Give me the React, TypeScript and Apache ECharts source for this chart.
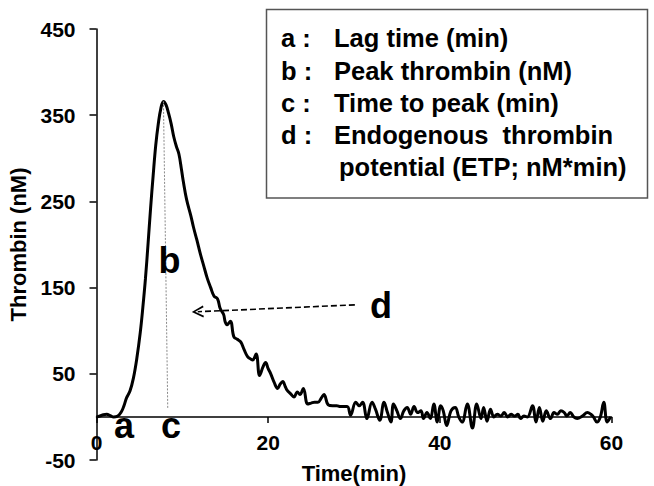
import React, { useEffect, useRef } from "react";
import * as echarts from "echarts";

// Time (min)
const times = [
  0, 0.4, 0.8, 1.2, 1.6, 2.0, 2.4, 2.9, 3.2, 3.5, 3.9, 4.3, 4.7, 5.1, 5.4, 5.7, 6.0, 6.3, 6.6, 6.9,
  7.2, 7.5, 7.8, 8.1, 8.4, 8.7, 9.0, 9.3, 9.6, 9.9, 10.1, 10.5, 11.0, 11.3, 11.7, 12.1, 12.5, 12.9, 13.3, 13.7,
  14.1, 14.4, 14.8, 15.0, 15.2, 15.6, 16.0, 16.4, 16.8, 17.2, 17.6, 18.0, 18.2, 18.6, 19.0, 19.4, 19.7, 20.0, 20.3, 20.7,
  21.1, 21.4, 21.7, 22.0, 22.2, 22.6, 23.0, 23.4, 23.7, 24.1, 24.6, 25.0, 25.4, 25.8, 26.2, 26.5, 27.0, 27.5, 28.0, 28.4,
  29.2, 29.6, 30.2, 30.6, 31.0, 31.5, 32.1, 32.5, 33.0, 33.5, 33.9, 34.3, 34.6, 35.0, 35.4, 35.8, 36.2, 36.6, 37.0, 37.4,
  37.8, 38.1, 38.5, 38.9, 39.3, 39.7, 40.1, 40.4, 40.8, 41.3, 41.8, 42.2, 42.6, 43.2, 43.8, 44.3, 44.8, 45.1, 45.5, 45.9,
  46.3, 46.7, 47.1, 47.5, 47.9, 48.3, 48.7, 49.1, 49.4, 49.8, 50.2, 50.8, 51.2, 51.6, 52.0, 52.4, 52.9, 53.3, 53.7, 54.1,
  54.5, 54.8, 55.2, 55.6, 56.0, 56.6, 57.2, 57.6, 57.9, 58.3, 58.7, 59.1, 59.5, 59.9,
];

// Thrombin (nM)
const thrombin = [
  0, 1, 2.5, 3, 1.5, 0, 0.5, 6, 13, 22, 30, 45, 68, 98, 127, 160, 200, 242, 280, 315,
  340, 358, 366, 362, 352, 340, 325, 314, 305, 287, 274, 252, 233, 220, 205, 189, 175, 161, 150, 140,
  137, 126, 119, 110, 107, 111, 93, 90, 87, 78, 70, 67, 66, 73, 48, 58, 63, 56, 50, 40,
  33, 38, 41, 35, 31, 27, 23, 29, 26, 33, 15, 16, 17, 17, 22, 26, 14, 13, 13, 12,
  12, 2, 17, 13, 17, -2, 17, 9, -4, 17, 5, -6, 15, 7, -2, 7, 11, 3, 12, 5,
  7, -2, 5, -2, 15, -6, 13, 7, -10, 7, 11, 0, -6, 15, -13, 15, -2, 11, -5, 9,
  0, 3, 1, 5, 0, 3, 1, 3, -2, 1, 0, 13, -6, 11, -5, 7, -2, 5, 3, 7,
  5, 1, 5, 0, -2, 1, 5, 3, 0, -6, 0, 17, -6, 0,
];

const xTicks = { min: 0, max: 60, interval: 20 };
const yTicks = { min: -50, max: 450, interval: 100 };

// Annotation anchor points (data coordinates)
const peakLine = [[7.8, 366], [8.3, 10]];
const etpArrow = [[30.1, 130], [11.8, 122]];

const legendKeys = ["a :", "b :", "c :", "d :", ""];
const legendTexts = [
  "Lag time (min)",
  "Peak thrombin (nM)",
  "Time to peak (min)",
  "Endogenous  thrombin",
  "potential (ETP; nM*min)",
];

const FONT = '"Liberation Sans", Arial, sans-serif';

const GRID_TOP = 29;
const GRID_BOTTOM = 26;
const CHART_H = 486;

export default function App() {
  const ref = useRef<HTMLDivElement>(null);

  useEffect(() => {
    if (!ref.current) return;
    const chart = echarts.init(ref.current, null, { renderer: "svg" });
    const data = times.map((t, i) => [t, thrombin[i]]);

    // distance between the grid bottom (y = min) and y = 0, so the x axis sits on zero
    const plotH = CHART_H - GRID_TOP - GRID_BOTTOM;
    const zeroOffset = ((0 - yTicks.min) / (yTicks.max - yTicks.min)) * plotH;

    const chevron = "path://M0,10 L5,0 L10,10 L8.6,10.6 L5,3 L1.4,10.6 Z";

    const legendRowY = [38, 71, 103, 135, 167];
    const legendGraphics: any[] = [
      {
        type: "rect",
        shape: { x: 266.5, y: 9.5, width: 381, height: 188.5 },
        style: { fill: "#fff", stroke: "#555", lineWidth: 1.5 },
        z: 10,
      },
    ];
    legendKeys.forEach((k, i) => {
      if (k) {
        legendGraphics.push({
          type: "text",
          x: 281,
          y: legendRowY[i],
          z: 11,
          style: {
            text: k,
            font: `bold 25.5px ${FONT}`,
            fill: "#000",
            textAlign: "left",
            textVerticalAlign: "middle",
          },
        });
      }
      legendGraphics.push({
        type: "text",
        x: i === 4 ? 339 : 334,
        y: legendRowY[i],
        z: 11,
        style: {
          text: legendTexts[i],
          font: `bold 25.5px ${FONT}`,
          fill: "#000",
          textAlign: "left",
          textVerticalAlign: "middle",
        },
      });
    });

    const letter = (t: string, x: number, y: number) => ({
      type: "text",
      x,
      y,
      z: 11,
      style: {
        text: t,
        font: `bold 36px ${FONT}`,
        fill: "#000",
        textAlign: "center",
        textVerticalAlign: "middle",
      },
    });

    const axisFont = { fontFamily: FONT, fontWeight: "bold" as const, color: "#000" };

    chart.setOption({
      animation: false,
      grid: {
        left: 96.5,
        right: 42.5,
        top: GRID_TOP,
        bottom: GRID_BOTTOM,
        containLabel: false,
        outerBoundsMode: "none",
      },
      xAxis: {
        type: "value",
        ...xTicks,
        offset: -zeroOffset,
        name: "Time(min)",
        nameLocation: "middle",
        nameGap: 46,
        nameTextStyle: { ...axisFont, fontSize: 22 },
        axisLine: { show: true, onZero: false, lineStyle: { color: "#000", width: 1.5 } },
        axisTick: { show: true, length: 6, lineStyle: { color: "#000", width: 1.5 } },
        axisLabel: { ...axisFont, fontSize: 21, margin: 15 },
        splitLine: { show: false },
      },
      yAxis: {
        type: "value",
        ...yTicks,
        name: "Thrombin (nM)",
        nameLocation: "middle",
        nameGap: 59,
        nameTextStyle: { ...axisFont, fontSize: 22 },
        axisLine: { show: true, onZero: false, lineStyle: { color: "#000", width: 1.5 } },
        axisTick: { show: true, length: 7, lineStyle: { color: "#000", width: 1.5 } },
        axisLabel: { ...axisFont, fontSize: 21, margin: 21 },
        splitLine: { show: false },
      },
      series: [
        {
          type: "line",
          data,
          smooth: 0.4,
          showSymbol: false,
          lineStyle: { color: "#000", width: 3 },
          itemStyle: { color: "#000" },
          silent: true,
          markLine: {
            silent: true,
            animation: false,
            label: { show: false },
            emphasis: { disabled: true },
            data: [
              [
                { coord: peakLine[0], symbol: "none", lineStyle: { color: "#8a8a8a", width: 1, type: [2, 1.5] } },
                { coord: peakLine[1], symbol: "none", lineStyle: { color: "#8a8a8a", width: 1, type: [2, 1.5] } },
              ],
              [
                { coord: etpArrow[0], symbol: "none", lineStyle: { color: "#000", width: 1.6, type: [6, 3] } },
                {
                  coord: etpArrow[1],
                  symbol: chevron,
                  symbolSize: [12, 12],
                  lineStyle: { color: "#000", width: 1.6, type: [6, 3] },
                },
              ],
            ],
          },
        },
      ],
      graphic: [
        ...legendGraphics,
        letter("a", 124, 425.5),
        letter("c", 171, 425.5),
        letter("b", 169.5, 260.5),
        letter("d", 381, 305.5),
      ],
    });

    return () => chart.dispose();
  }, []);

  return (
    <div
      ref={ref}
      style={{ position: "fixed", left: 0, top: 0, width: 654, height: 486, background: "#fff" }}
    />
  );
}
